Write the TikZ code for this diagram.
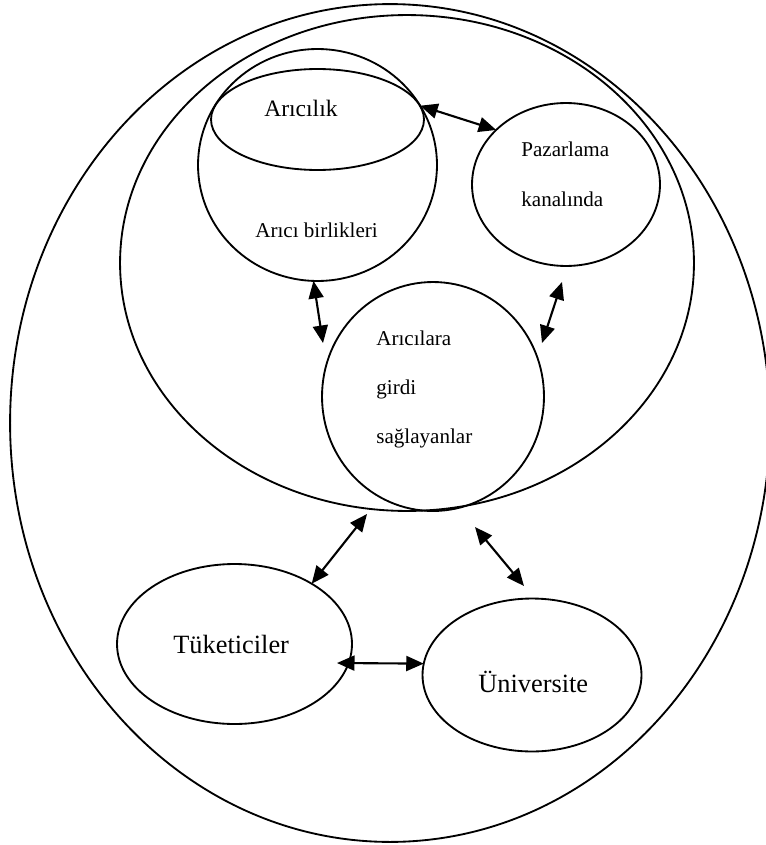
\documentclass[tikz,border=0pt]{standalone}
\usepackage{fontspec}
\setmainfont{Liberation Serif}
\usetikzlibrary{shapes.geometric,arrows.meta}
\tikzset{
  blob/.style={draw, ellipse, inner sep=0pt, outer sep=0pt, line width=1.05pt},
  lbl/.style={anchor=base west, inner sep=0pt},
  link/.style={{Triangle[length=0.35cm,width=0.3cm]}-{Triangle[length=0.35cm,width=0.3cm]}, line width=1.2pt}
}
\newcommand{\lblsize}{\fontsize{12}{14}\selectfont}
\begin{document}
\begin{tikzpicture}[x=0.02cm,y=-0.02cm]
	\useasboundingbox (0,0) rectangle (766,845);
	% ellipses
	\node[blob, minimum width=15.2cm, minimum height=16.76cm] (world) at (390,423) {};
	\node[blob, minimum width=11.48cm, minimum height=9.92cm] (sector) at (407,263) {};
	\node[blob, minimum width=4.78cm, minimum height=4.64cm] (birlik) at (317.5,165) {};
	\node[blob, minimum width=4.26cm, minimum height=2.02cm] (aricilik) at (317.5,119.5) {};
	\node[blob, minimum width=3.76cm, minimum height=3.26cm] (pazar) at (566,184.5) {};
	\node[blob, minimum width=4.44cm, minimum height=4.58cm] (girdi) at (433,396.5) {};
	\node[blob, minimum width=4.70cm, minimum height=3.20cm] (tuk) at (234.5,644) {};
	\node[blob, minimum width=4.38cm, minimum height=3.06cm] (uni) at (532,675) {};
	
	% texts
	\node[lbl] (t1) at (264,116) {\fontsize{13.4}{15}\selectfont Arıcılık};
	\node[lbl] (t2) at (255,237) {\lblsize Arıcı birlikleri};
	\node[lbl] (t3) at (521,156) {\lblsize Pazarlama};
	\node[lbl] (t4) at (521,206) {\lblsize kanalında};
	\node[lbl] (t5) at (376,345) {\lblsize Arıcılara};
	\node[lbl] (t6) at (376,394) {\lblsize girdi};
	\node[lbl] (t7) at (376,443) {\lblsize sağlayanlar};
	\node[lbl] (t8) at (173,653) {\fontsize{15}{17}\selectfont Tüketiciler};
	\node[lbl] (t9) at (478,692) {\fontsize{15}{17}\selectfont Üniversite};
	
	% arrow ends
	\coordinate (e1) at (323,343);
	\coordinate (e2) at (562,282);
	\coordinate (e3) at (542,343);
	\coordinate (e4) at (367,514);
	\coordinate (e5) at (475,527);
	\coordinate (e6) at (524,586);
	\coordinate (e7) at (337,663);
	
	\draw[link] (birlik.30) -- (pazar.142);
	\draw[link] (birlik.-92) -- (e1);
	\draw[link] (e2) -- (e3);
	\draw[link] (e4) -- (tuk.38);
	\draw[link] (e5) -- (e6);
	\draw[link] (e7) -- (uni.174);
\end{tikzpicture}
\end{document}
